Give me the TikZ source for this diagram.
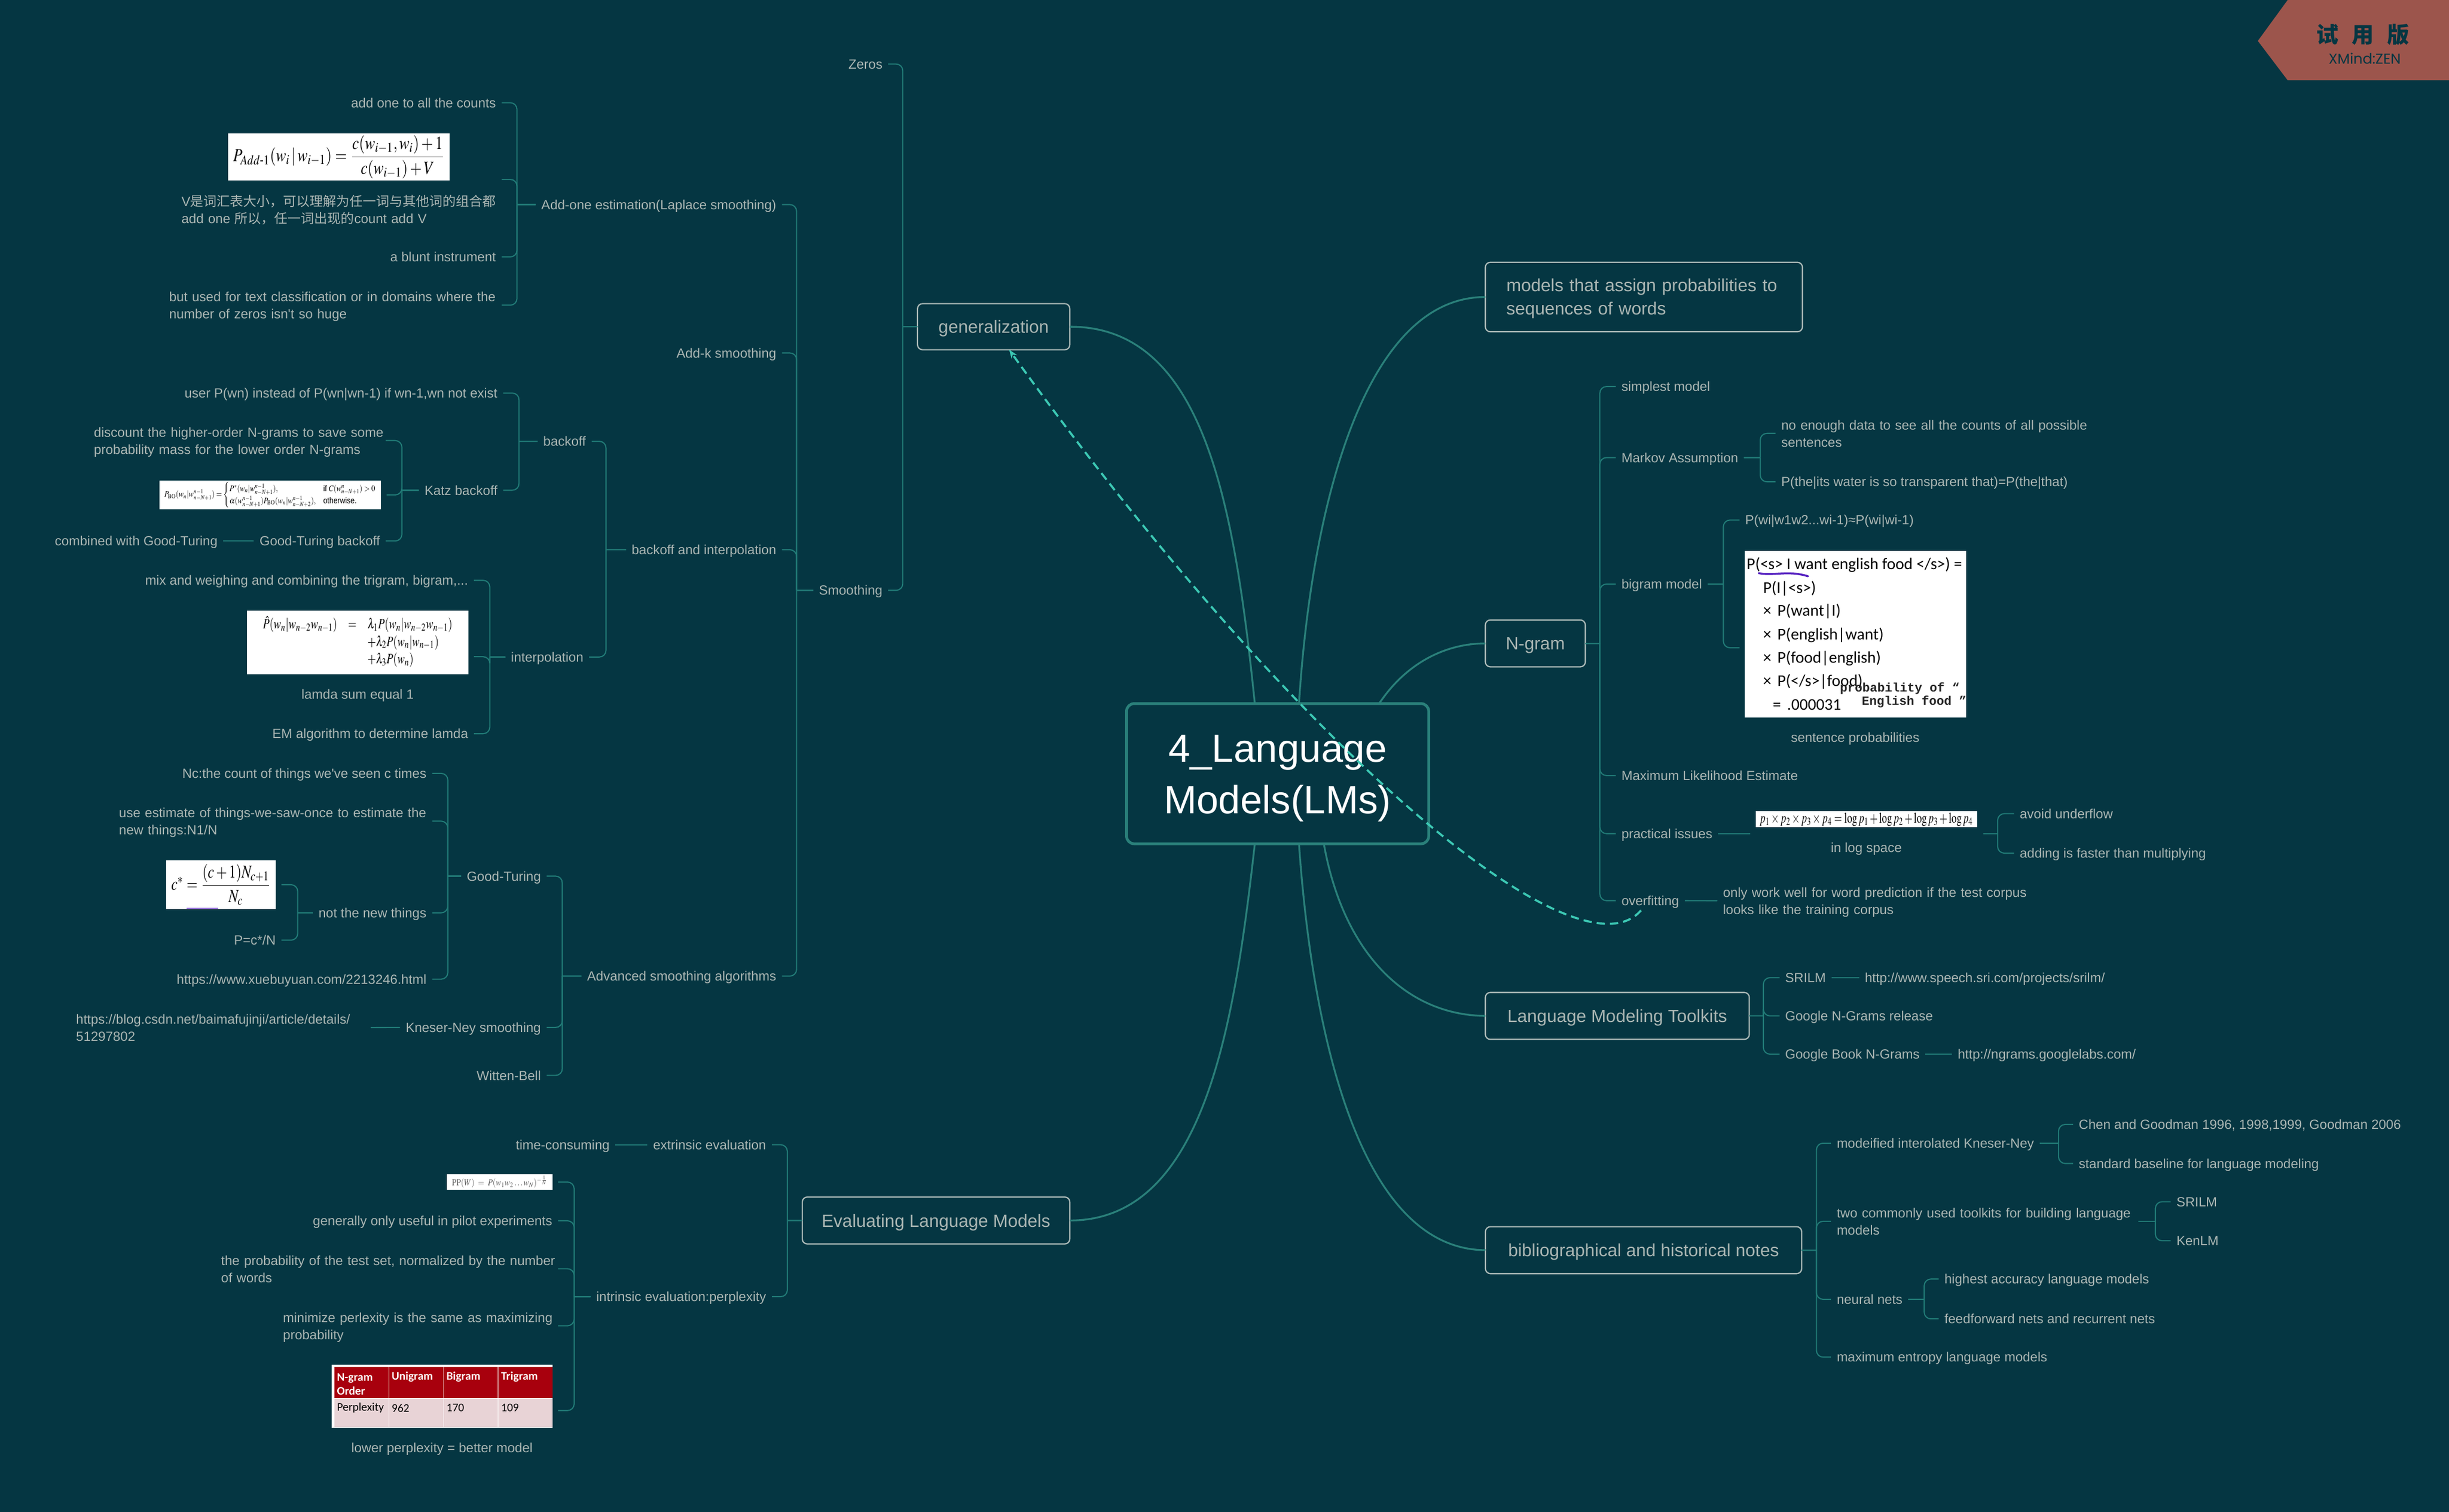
\documentclass[tikz,border=0pt]{standalone}
\usepackage{amsmath,graphicx,mathptmx}
\usepackage{fontspec}
\setmainfont{Liberation Sans}
\newfontfamily\cjk{Noto Sans CJK SC}
\newfontfamily\carl{Carlito}
\newfontfamily\pop{Poppins}
\newfontfamily\mon{Liberation Mono}
\usetikzlibrary{calc,arrows.meta}
\definecolor{bgc}{HTML}{053642}
\definecolor{brc}{HTML}{217A76}
\definecolor{mainc}{HTML}{2A807A}
\definecolor{txtc}{HTML}{AAB6B3}
\definecolor{boxc}{HTML}{A9B8B6}
\definecolor{dashc}{HTML}{3CC8B4}
\definecolor{wmc}{HTML}{9C554C}
\definecolor{tabred}{HTML}{A8000D}
\definecolor{tabpink}{HTML}{E8D3D6}
\definecolor{purp}{HTML}{5520C0}
\def\U{2.8208pt}
\newcommand\bodyf{\fontsize{24}{31}\selectfont}
\newcommand\twol[2]{\mbox{\rule{0pt}{27.3pt}#1}\\\mbox{\strut #2}}
% connector: spine x, parent, child end
\newcommand\lk[3]{\draw[br] let \p1=(#2.west) in (\p1) -- (#1*\U,\y1) ++(0,0) [rounded corners=12pt] |- (#3);}
\newcommand\rk[3]{\draw[br] let \p1=(#2.east) in (\p1) -- (#1*\U,\y1) ++(0,0) [rounded corners=12pt] |- (#3);}
\tikzset{
  br/.style={draw=brc,line width=2.1pt},
  mainline/.style={draw=mainc,line width=3.3pt},
  tr/.style={font=\bodyf,text=txtc,inner sep=0pt,outer ysep=0pt,outer xsep=10.4pt,anchor=east,text height=20.6pt,text depth=3.4pt},
  tl/.style={font=\bodyf,text=txtc,inner sep=0pt,outer ysep=0pt,outer xsep=10.4pt,anchor=west,text height=20.6pt,text depth=3.4pt},
  tc/.style={font=\bodyf,text=txtc,inner sep=0pt,text height=20.6pt,text depth=3.4pt},
  wr/.style={font=\bodyf,text=txtc,inner sep=0pt,outer ysep=0pt,outer xsep=10.4pt,anchor=east,align=left,text width=#1*\U},
  wl/.style={font=\bodyf,text=txtc,inner sep=0pt,outer ysep=0pt,outer xsep=10.4pt,anchor=west,align=left,text width=#1*\U},
  topic/.style={draw=boxc,line width=2.3pt,rounded corners=9pt,fill=bgc,text=txtc,font=\fontsize{32}{42}\selectfont,inner sep=0pt,outer sep=0pt,align=left},
  one/.style={align=center,text height=24pt,text depth=0.8pt},
  img/.style={fill=white,inner sep=0pt,outer ysep=0pt,outer xsep=10pt,text=black},
  bg/.style={font=\carl\fontsize{29.6}{36}\selectfont,text=black,inner sep=0pt,anchor=west,text height=23pt,text depth=3.8pt},
  hd/.style={font=\carl\bfseries\fontsize{21}{25}\selectfont,text=white,inner sep=0pt,anchor=west,align=left},
  rw/.style={font=\carl\fontsize{21}{25}\selectfont,text=black,inner sep=0pt,anchor=west},
}
\begin{document}
\begin{tikzpicture}[x=2.8208pt,y=-2.8208pt]
\fill[bgc] (0,0) rectangle (1568,968.16);
\useasboundingbox (0,0) rectangle (1568,968.16);

% ---------- main topics
\node[topic,one,minimum width=97.5*\U,minimum height=29.5*\U] (gen) at (636.2,209.2) {generalization};
\node[topic,minimum width=203*\U,minimum height=44.5*\U,text width=176*\U] (models) at (1052.5,190.2) {\rule{0pt}{29pt}models that assign probabilities to\\sequences of words};
\node[topic,one,minimum width=64*\U,minimum height=30*\U] (ngram) at (983,412) {N-gram};
\node[topic,one,minimum width=169*\U,minimum height=30*\U] (tool) at (1035.5,650.5) {Language Modeling Toolkits};
\node[topic,one,minimum width=202.5*\U,minimum height=30*\U] (bib) at (1052.3,800.5) {bibliographical and historical notes};
\node[topic,one,minimum width=171.3*\U,minimum height=30*\U] (eval) at (599.3,781.5) {Evaluating Language Models};

% ---------- centre
\node[draw=mainc,line width=5pt,rounded corners=14pt,text=white,font=\fontsize{71}{93}\selectfont,align=center,minimum width=193.5*\U,minimum height=89.8*\U,inner sep=0pt,outer sep=0pt] (center) at (818,495.4) {\rule{0pt}{66pt}4\_Language\\Models(LMs)};
\draw[mainline] (gen.east) .. controls (770,209) and (790,320) .. ([xshift=-41.2pt]center.north);
\draw[mainline] (models.west) .. controls (875,190) and (840,320) .. ([xshift=38.6pt]center.north);
\draw[mainline] (ngram.west) .. controls (925,412) and (900,425) .. ([xshift=183.4pt]center.north);
\draw[mainline] (tool.west) .. controls (900,650) and (860,610) .. ([xshift=83.5pt]center.south);
\draw[mainline] (bib.west) .. controls (870,800) and (840,660) .. ([xshift=38.6pt]center.south);
\draw[mainline] (eval.east) .. controls (770,781.5) and (790,660) .. ([xshift=-41.2pt]center.south);

% ---------- generalization
\node[tr] (zeros) at (568.7,41) {Zeros};
\node[tr] (smooth) at (568.7,378) {Smoothing};
\lk{578}{gen}{zeros.east}
\lk{578}{gen}{smooth.east}

\node[tr] (addone) at (500.7,131) {Add-one estimation(Laplace smoothing)};
\node[tr] (addk) at (500.7,226) {Add-k smoothing};
\node[tr] (bi) at (500.7,352) {backoff and interpolation};
\node[tr] (adv) at (500.7,625) {Advanced smoothing algorithms};
\lk{510}{smooth}{addone.east}
\lk{510}{smooth}{addk.east}
\lk{510}{smooth}{bi.east}
\lk{510}{smooth}{adv.east}

% add-one
\node[tr] (a1) at (321.2,65.8) {add one to all the counts};
\node[img,minimum width=142*\U,minimum height=30.1*\U] (a2img) at (217,100.5) {\resizebox*{382pt}{78pt}{$P_{Add\text{-}1}(w_i\,|\,w_{i-1})=\dfrac{c(w_{i-1},w_i)+1}{c(w_{i-1})+V}$}};
\node[wr=201.3] (a2t) at (321.2,134.2) {\twol{V{\cjk 是词汇表大小，可以理解为任一词与其他词的组合都}}{add one {\cjk 所以，任一词出现的}count add V}};
\coordinate (a2) at (321.2,114.9);
\node[tr] (a3) at (321.2,164.5) {a blunt instrument};
\node[wr=209.2] (a4) at (321.2,195.4) {\twol{but used for text classification or in domains where the}{number of zeros isn\textquotesingle t so huge}};
\lk{331}{addone}{a1.east}
\lk{331}{addone}{a2}
\lk{331}{addone}{a3.east}
\lk{331}{addone}{a4.east}

% backoff and interpolation
\node[tr] (boff) at (378.8,282.6) {backoff};
\node[tl] (interp) at (323.5,420.7) {interpolation};
\lk{388}{bi}{boff.east}
\lk{388}{bi}{interp.east}

\node[tr] (b1) at (322.2,251.7) {user P(wn) instead of P(wn|wn-1) if wn-1,wn not exist};
\node[tr] (katz) at (322.2,313.9) {Katz backoff};
\lk{332.3}{boff}{b1.east}
\lk{332.3}{boff}{katz.east}

\node[wr=183.2] (k1) at (247,282.1) {\twol{discount the higher-order N-grams to save some}{probability mass for the lower order N-grams}};
\node[img,minimum width=142*\U,minimum height=18.7*\U] (k2) at (173,316.9) {\resizebox*{382pt}{46pt}{$P_{\mathrm{BO}}(w_n|w^{n-1}_{n-N+1})=\begin{cases}P^{*}(w_n|w^{n-1}_{n-N+1}), & \text{if }C(w^{n}_{n-N+1})>0\\ \alpha(w^{n-1}_{n-N+1})P_{\mathrm{BO}}(w_n|w^{n-1}_{n-N+2}), & \text{otherwise.}\end{cases}$}};
\node[tr] (k3) at (247,346.4) {Good-Turing backoff};
\node[tr] (k3a) at (143,346.4) {combined with Good-Turing};
\lk{257.3}{katz}{k1.east}
\lk{257.3}{katz}{k2.east}
\lk{257.3}{katz}{k3.east}
\draw[br] (k3.west) -- (k3a.east);

\node[tr] (i1) at (303.4,371.6) {mix and weighing and combining the trigram, bigram,...};
\node[img,minimum width=142*\U,minimum height=40.8*\U] (i2img) at (229,411.4) {\resizebox*{362pt}{94pt}{$\begin{array}{rcl}\hat P(w_n|w_{n-2}w_{n-1})&=&\lambda_1P(w_n|w_{n-2}w_{n-1})\\&&+\lambda_2P(w_n|w_{n-1})\\&&+\lambda_3P(w_n)\end{array}$}};
\node[tc] (i2t) at (229,444.5) {lamda sum equal 1};
\coordinate (i2) at (303.4,420.5);
\node[tr] (i3) at (303.4,469.8) {EM algorithm to determine lamda};
\lk{313.6}{interp}{i1.east}
\lk{313.6}{interp}{i2}
\lk{313.6}{interp}{i3.east}

% advanced
\node[tr] (gt) at (350,561) {Good-Turing};
\node[tr] (kn) at (350,657.9) {Kneser-Ney smoothing};
\node[tr] (wb) at (350,688.6) {Witten-Bell};
\lk{360}{adv}{gt.east}
\lk{360}{adv}{kn.east}
\lk{360}{adv}{wb.east}

\node[tr] (g1) at (276.7,495.2) {Nc:the count of things we\textquotesingle ve seen c times};
\node[wr=196.8] (g2) at (276.7,525.8) {\twol{use estimate of things-we-saw-once to estimate the}{new things:N1/N}};
\node[tr] (g3) at (276.7,584.5) {not the new things};
\node[tr] (g4) at (276.7,627) {https://www.xuebuyuan.com/2213246.html};
\lk{286.7}{gt}{g1.east}
\lk{286.7}{gt}{g2.east}
\lk{286.7}{gt}{g3.east}
\lk{286.7}{gt}{g4.east}

\node[img,minimum width=70.2*\U,minimum height=31.1*\U] (c1) at (141.6,566.5) {\resizebox*{180pt}{74pt}{$c^{*}=\dfrac{(c+1)N_{c+1}}{N_c}$}};
\draw[purp,line width=1.5pt] (c1.south) ++(-22,-0.5) -- ++(20,0);
\node[tr] (c2) at (180.2,602) {P=c*/N};
\lk{190.6}{g3}{c1.east}
\lk{190.6}{g3}{c2.east}

\node[wr=185] (kn1) at (237.4,658) {\twol{https://blog.csdn.net/baimafujinji/article/details/}{51297802}};
\draw[br] (kn.west) -- (kn1.east);

% ---------- evaluating
\node[tr] (ext) at (494.2,733) {extrinsic evaluation};
\node[tr] (ext1) at (394,733) {time-consuming};
\node[tr] (int) at (494.2,830.3) {intrinsic evaluation:perplexity};
\lk{504.1}{eval}{ext.east}
\lk{504.1}{eval}{int.east}
\draw[br] (ext.west) -- (ext1.east);

\node[img,minimum width=67.8*\U,minimum height=9.8*\U] (e1) at (319.9,756.9) {\resizebox*{172pt}{22pt}{\color{black!65}$\mathrm{PP}(W)\;=\;P(w_1w_2\ldots w_N)^{-\frac{1}{N}}$}};
\node[tr] (e2) at (357.3,781.7) {generally only useful in pilot experiments};
\node[wr=212] (e3) at (357.3,812.4) {\twol{the probability of the test set, normalized by the number}{of words}};
\node[wr=172.4] (e4) at (357.3,848.9) {\twol{minimize perlexity is the same as maximizing}{probability}};
\coordinate (e5) at (357.3,903.2);
\lk{367.6}{int}{e1.east}
\lk{367.6}{int}{e2.east}
\lk{367.6}{int}{e3.east}
\lk{367.6}{int}{e4.east}
\lk{367.6}{int}{e5}

\fill[white] (212.3,873.9) rectangle (353.8,914.3);
\fill[tabred] (214,875.1) rectangle (353.8,895);
\fill[tabpink] (214,895.8) rectangle (353.8,914);
\foreach \tx in {249,284,319}{\draw[white,line width=1pt] (\tx,875.1) -- (\tx,914);}
\node[hd] (t1) at (215.7,886.2) {N-gram\\Order};
\node[hd] (t2) at (250.7,881.7) {Unigram};
\node[hd] (t3) at (285.8,881.7) {Bigram};
\node[hd] (t4) at (320.8,881.7) {Trigram};
\node[rw] (t5) at (215.7,901.6) {Perplexity};
\node[rw] (t6) at (250.7,901.6) {962};
\node[rw] (t7) at (285.8,901.6) {170};
\node[rw] (t8) at (320.8,901.6) {109};
\node[tc] (t9) at (283,927) {lower perplexity = better model};

% ---------- right side: N-gram
\node[tl] (n1) at (1034.5,247.5) {simplest model};
\node[tl] (n2) at (1034.5,293) {Markov Assumption};
\node[tl] (n3) at (1034.5,374) {bigram model};
\node[tl] (n4) at (1034.5,496.6) {Maximum Likelihood Estimate};
\node[tl] (n5) at (1034.5,533.8) {practical issues};
\node[tl] (n6) at (1034.5,576.7) {overfitting};
\rk{1024.3}{ngram}{n1.west}
\rk{1024.3}{ngram}{n2.west}
\rk{1024.3}{ngram}{n3.west}
\rk{1024.3}{ngram}{n4.west}
\rk{1024.3}{ngram}{n5.west}
\rk{1024.3}{ngram}{n6.west}

\node[wl=200] (m1) at (1136.8,277.5) {\twol{no enough data to see all the counts of all possible}{sentences}};
\node[tl] (m2) at (1136.8,308.5) {P(the|its water is so transparent that)=P(the|that)};
\rk{1127}{n2}{m1.west}
\rk{1127}{n2}{m2.west}

\node[tl] (bg1) at (1113.7,333) {P(wi|w1w2...wi-1)≈P(wi|wi-1)};
\coordinate (bg2) at (1113.7,414.8);
\rk{1103.4}{n3}{bg1.west}
\rk{1103.4}{n3}{bg2}

\fill[white] (1117,352.6) rectangle (1259,459.3);
\node[bg] (s1) at (1118.3,361.3) {P(<s> I want english food </s>) =};
\node[bg] (s2) at (1128.8,376.4) {P(I|<s>)};
\node[bg] (s3) at (1128.8,391) {×\hspace{11pt}P(want|I)};
\node[bg] (s4) at (1128.8,406.3) {×\hspace{11pt}P(english|want)};
\node[bg] (s5) at (1128.8,421.2) {×\hspace{11pt}P(food|english)};
\node[bg] (s6) at (1128.8,436) {×\hspace{11pt}P(</s>|food)};
\node[bg] (s7) at (1135,451.2) {=\hspace{11pt}.000031};
\draw[purp,line width=3.5pt,line cap=round] (1126,367) .. controls (1135,369) and (1145,365) .. (1157.6,369);
\begin{scope}
\clip (1117,352.6) rectangle (1259,459.3);
\node[font=\mon\bfseries\fontsize{22.5}{24}\selectfont,text=black!85,inner sep=0pt,anchor=west] (s8) at (1178,440.8) {probability of “};
\node[font=\mon\bfseries\fontsize{22.5}{24}\selectfont,text=black!85,inner sep=0pt,anchor=west] (s9) at (1192,449.4) {English food ”};
\end{scope}
\node[tc] (s10) at (1187.8,472.3) {sentence probabilities};

\node[img,minimum width=141.8*\U,minimum height=10.2*\U] (p1img) at (1194.9,524.6) {\resizebox*{385pt}{24pt}{$p_1\times p_2\times p_3\times p_4=\log p_1+\log p_2+\log p_3+\log p_4$}};
\node[tc] (p1t) at (1194.9,542.6) {in log space};
\coordinate (pL) at (1120.7,533.8);
\coordinate (pR) at (1270,533.8);
\draw[br] (n5.east) -- (pL);
\node[tl] (p2) at (1289.5,521) {avoid underflow};
\node[tl] (p3) at (1289.5,546.3) {adding is faster than multiplying};
\draw[br] (pR) -- (1279,533.8);
\draw[br,rounded corners=12pt] (1279,533.8) |- (p2.west);
\draw[br,rounded corners=12pt] (1279,533.8) |- (p3.west);

\node[wl=193] (o1) at (1099.5,576.8) {\twol{only work well for word prediction if the test corpus}{looks like the training corpus}};
\draw[br] (n6.east) -- (o1.west);

% ---------- toolkits
\node[tl] (l1) at (1139.3,626) {SRILM};
\node[tl] (l2) at (1139.3,650.5) {Google N-Grams release};
\node[tl] (l3) at (1139.3,675) {Google Book N-Grams};
\rk{1129}{tool}{l1.west}
\rk{1129}{tool}{l2.west}
\rk{1129}{tool}{l3.west}
\node[tl] (l1a) at (1190.3,626) {http://www.speech.sri.com/projects/srilm/};
\node[tl] (l3a) at (1249.8,675) {http://ngrams.googlelabs.com/};
\draw[br] (l1.east) -- (l1a.west);
\draw[br] (l3.east) -- (l3a.west);

% ---------- biblio
\node[tl] (h1) at (1172.3,732) {modeified interolated Kneser-Ney};
\node[wl=192] (h2) at (1172.3,782) {\twol{two commonly used toolkits for building language}{models}};
\node[tl] (h3) at (1172.3,832) {neural nets};
\node[tl] (h4) at (1172.3,869) {maximum entropy language models};
\rk{1163}{bib}{h1.west}
\rk{1163}{bib}{h2.west}
\rk{1163}{bib}{h3.west}
\rk{1163}{bib}{h4.west}

\node[tl] (h1a) at (1327.3,720) {Chen and Goodman 1996, 1998,1999, Goodman 2006};
\node[tl] (h1b) at (1327.3,745) {standard baseline for language modeling};
\rk{1318}{h1}{h1a.west}
\rk{1318}{h1}{h1b.west}
\node[tl] (h2a) at (1389.8,769.5) {SRILM};
\node[tl] (h2b) at (1389.8,794.5) {KenLM};
\coordinate (h2e) at (1369,782);
\draw[br] (h2e) -- (1380,782);
\draw[br,rounded corners=12pt] (1380,782) |- (h2a.west);
\draw[br,rounded corners=12pt] (1380,782) |- (h2b.west);
\node[tl] (h3a) at (1241.3,819) {highest accuracy language models};
\node[tl] (h3b) at (1241.3,844.5) {feedforward nets and recurrent nets};
\rk{1232}{h3}{h3a.west}
\rk{1232}{h3}{h3b.west}

% ---------- relationship
\draw[dashc,line width=3.8pt,dash pattern=on 15pt off 9pt,-{Stealth[length=16pt,width=12pt]}] ([shift={(-6,2)}]n6.south) .. controls (1010,630) and (830,480) .. ([xshift=28pt]gen.south);

% ---------- watermark
\fill[wmc] (1464.7,0) -- (1568,0) -- (1568,51.4) -- (1464.7,51.4) -- (1445.6,26.2) -- cycle;
\node[font=\cjk\bfseries\fontsize{40}{40}\selectfont,text=bgc,inner sep=0pt] (wm1) at (1513,22.2) {试\hspace{24pt}用\hspace{24pt}版};
\node[font=\pop\fontsize{26}{26}\selectfont,text=bgc,inner sep=0pt] (wm2) at (1514,37.6) {XMind:ZEN};
\end{tikzpicture}
\end{document}
